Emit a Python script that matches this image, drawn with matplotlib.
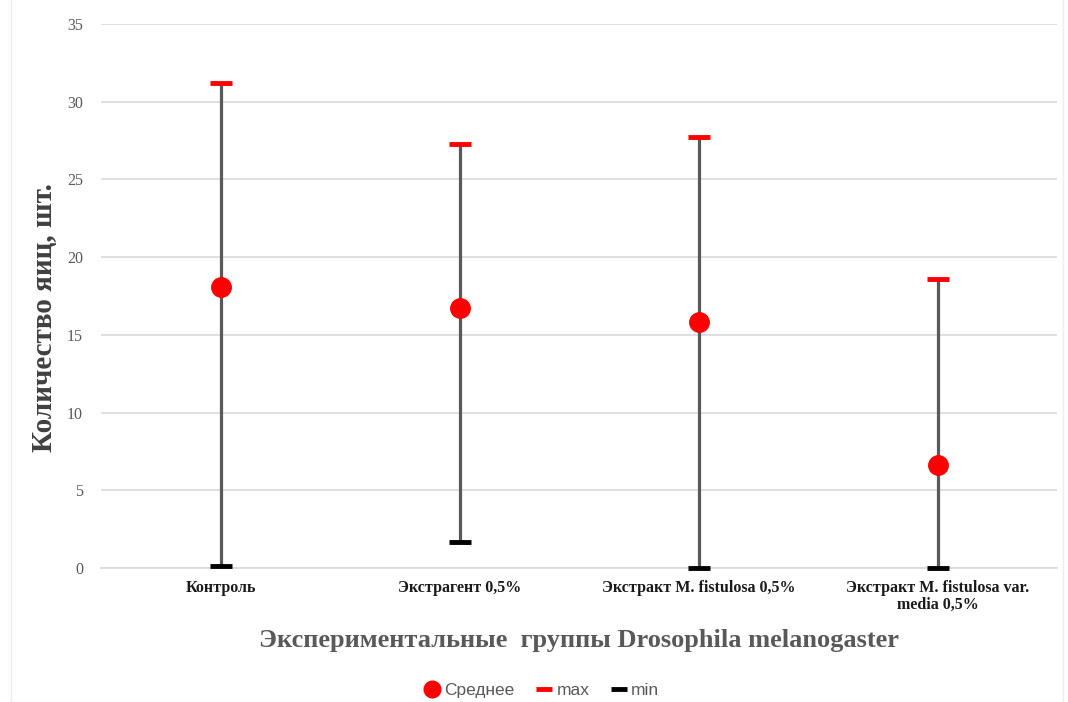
import matplotlib
matplotlib.use("Agg")
import matplotlib.pyplot as plt
from matplotlib.lines import Line2D
from matplotlib.patches import Rectangle

categories = ["Контроль", "Экстрагент 0,5%", "Экстракт M. fistulosa 0,5%",
              "Экстракт M. fistulosa var.\nmedia 0,5%"]
mean_vals = [18.1, 16.7, 15.8, 6.6]
max_vals = [31.2, 27.3, 27.7, 18.6]
min_vals = [0.1, 1.7, 0.0, 0.0]
y_ticks = [0, 5, 10, 15, 20, 25, 30, 35]

fig = plt.figure(figsize=(10.68, 7.02), dpi=100)
fig.patches.append(Rectangle((0.01, 0.0), 0.985, 1.02, transform=fig.transFigure,
                             fill=False, edgecolor="#ececec", linewidth=1))
ax = fig.add_axes([0.0946, 0.1909, 0.8951, 0.7749])

x = list(range(len(categories)))
ax.vlines(x, min_vals, max_vals, color="#595959", linewidth=2.3, zorder=2)
ax.plot(x, max_vals, linestyle="none", marker="_", markersize=16,
        markeredgewidth=3.5, color="#ff0000", zorder=3, clip_on=False)
ax.plot(x, min_vals, linestyle="none", marker="_", markersize=16,
        markeredgewidth=3.5, color="#000000", zorder=3, clip_on=False)
ax.plot(x, mean_vals, linestyle="none", marker="o", markersize=14,
        color="#ff0000", markeredgecolor="#ff0000", zorder=4)

ax.set_xlim(-0.5, len(categories) - 0.5)
ax.set_ylim(0, 35)
ax.set_yticks(y_ticks)
ax.yaxis.grid(True, color="#d9d9d9", linewidth=1.2)
ax.set_axisbelow(True)
for s in ax.spines.values():
    s.set_visible(False)
ax.spines["bottom"].set_visible(True)
ax.spines["bottom"].set_color("#d9d9d9")
ax.spines["bottom"].set_linewidth(1.2)
ax.tick_params(axis="both", length=0)
ax.tick_params(axis="y", pad=13, labelsize=11.5, labelcolor="#595959")
for lab in ax.get_yticklabels():
    lab.set_fontfamily("Liberation Serif")

ax.set_xticks(x)
ax.set_xticklabels(categories, fontfamily="Liberation Serif", fontweight="bold",
                   fontsize=11.5, color="#1a1a1a", linespacing=1.0)
ax.tick_params(axis="x", pad=9)

ax.set_ylabel("Количество яиц, шт.", fontfamily="Liberation Serif",
              fontweight="bold", fontsize=21, color="#404040", labelpad=6)
ax.yaxis.set_label_coords(-0.045, 0.46)
ax.set_xlabel("Экспериментальные  группы Drosophila melanogaster",
              fontfamily="Liberation Serif", fontweight="bold", fontsize=19,
              color="#595959", labelpad=12)

handles = [
    Line2D([], [], linestyle="none", marker="o", markersize=12, color="#ff0000"),
    Line2D([], [], linestyle="none", marker="_", markersize=12,
           markeredgewidth=3.5, color="#ff0000"),
    Line2D([], [], linestyle="none", marker="_", markersize=12,
           markeredgewidth=3.5, color="#000000"),
]
fig.legend(handles, ["Среднее", "max", "min"], loc="center",
           bbox_to_anchor=(0.507, 0.017), ncol=3, frameon=False,
           prop={"family": "Liberation Sans", "size": 12.5},
           labelcolor="#595959", handletextpad=0.2, columnspacing=1.2,
           handlelength=1.0)

fig.savefig("out.png", dpi=100, facecolor="white")
